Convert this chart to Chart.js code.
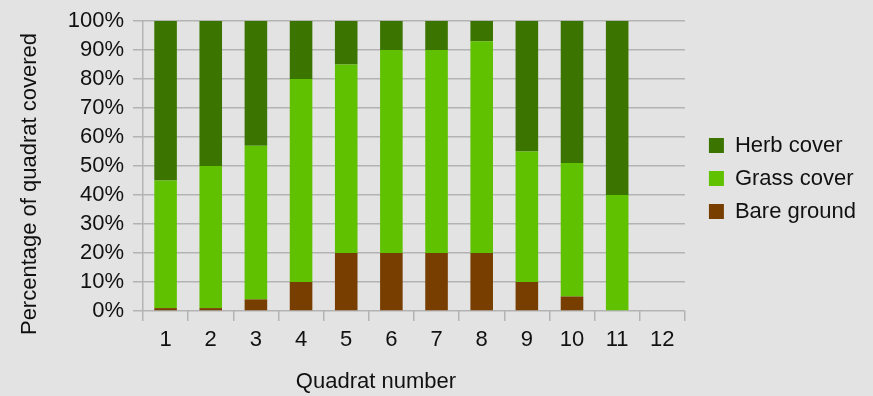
<!DOCTYPE html>
<html>
<head>
<meta charset="utf-8">
<script src="https://cdn.jsdelivr.net/npm/chart.js@4/dist/chart.umd.min.js"></script>
<style>
  html, body { margin: 0; padding: 0; background: #e3e3e3; }
  canvas { display: block; }
</style>
</head>
<body>
<canvas id="chart" width="873" height="396"></canvas>
<script>
// Quadrat survey: share of each quadrat covered by herbs, grass and bare ground
const quadrats = ['1', '2', '3', '4', '5', '6', '7', '8', '9', '10', '11', '12'];
const bareGround = [1, 1, 4, 10, 20, 20, 20, 20, 10, 5, 0, 0];
const grassCover = [44, 49, 53, 70, 65, 70, 70, 73, 45, 46, 40, 0];
const herbCover = [55, 50, 43, 20, 15, 10, 10, 7, 45, 49, 60, 0];

const GRID = '#b3b3b3';
const TEXT = '#111111';
const FONT = "'Liberation Sans', Arial, sans-serif";

// Nudges applied after Chart.js lays out its boxes
const LEGEND_DX = 13, LEGEND_DY = -30;
const Y_TITLE_DY = 18;
const X_TITLE_DX = -38;

const layoutTweaks = {
  id: 'layoutTweaks',
  afterLayout(chart) {
    const lg = chart.legend;
    lg.left += LEGEND_DX; lg.right += LEGEND_DX;
    lg.top += LEGEND_DY; lg.bottom += LEGEND_DY;
    const y = chart.scales.y;
    y.top += Y_TITLE_DY; y.bottom += Y_TITLE_DY;
    const x = chart.scales.x;
    x.left += X_TITLE_DX; x.right += X_TITLE_DX;
  }
};

new Chart(document.getElementById('chart'), {
  type: 'bar',
  data: {
    labels: quadrats,
    datasets: [
      { label: 'Bare ground', data: bareGround, backgroundColor: '#773e00', clip: false },
      { label: 'Grass cover', data: grassCover, backgroundColor: '#60c100', clip: false },
      { label: 'Herb cover', data: herbCover, backgroundColor: '#3b7500', clip: false }
    ]
  },
  options: {
    responsive: false,
    animation: false,
    layout: { padding: { left: 0, top: 21, right: 20, bottom: 0 } },
    datasets: { bar: { categoryPercentage: 1, barPercentage: 0.5 } },
    plugins: {
      tooltip: { enabled: false },
      legend: {
        position: 'right',
        reverse: true,
        labels: {
          boxWidth: 15, boxHeight: 15, padding: 11,
          color: TEXT,
          font: { family: FONT, size: 22 }
        }
      }
    },
    scales: {
      x: {
        stacked: true,
        afterFit(s) { s.height = 85; },
        border: { display: false },
        grid: {
          offset: true,
          lineWidth: 1.5,
          color: (ctx) => (ctx.index === 0 || ctx.index === quadrats.length) ? GRID : 'rgba(0,0,0,0)',
          tickColor: GRID,
          tickLength: 10
        },
        ticks: { color: TEXT, padding: 6, autoSkip: false, maxRotation: 0, font: { family: FONT, size: 22 } },
        title: {
          display: true, text: 'Quadrat number', color: TEXT,
          font: { family: FONT, size: 22 }, padding: { top: 0, bottom: 1 }
        }
      },
      y: {
        stacked: true,
        min: 0, max: 100,
        afterFit(s) { s.width = 143; },
        border: { display: false },
        grid: { color: GRID, lineWidth: 1.5, tickLength: 10 },
        ticks: {
          stepSize: 10, padding: 9, color: TEXT, autoSkip: false,
          font: { family: FONT, size: 22, lineHeight: 1 },
          callback: (v) => v + '%'
        },
        title: {
          display: true, text: 'Percentage of quadrat covered', color: TEXT,
          font: { family: FONT, size: 22 }, padding: { top: 17, bottom: 0 }
        }
      }
    }
  },
  plugins: [layoutTweaks]
});
</script>
</body>
</html>
